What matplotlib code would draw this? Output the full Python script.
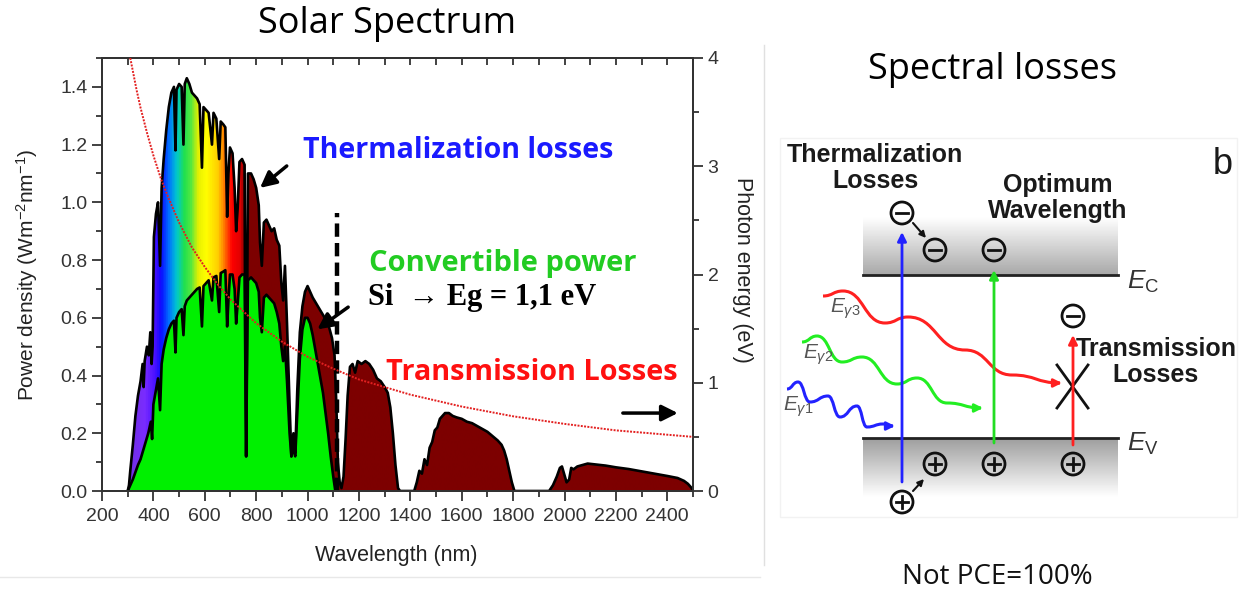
import numpy as np
import matplotlib
matplotlib.use('Agg')
import matplotlib.pyplot as plt
from matplotlib.colors import LinearSegmentedColormap
from matplotlib.patches import Circle, Rectangle, PathPatch
from matplotlib.path import Path
from matplotlib.ticker import MultipleLocator

plt.rcParams['font.family'] = ['Liberation Sans', 'DejaVu Sans']
plt.rcParams['mathtext.fontset'] = 'custom'
plt.rcParams['mathtext.rm'] = 'Liberation Sans'
plt.rcParams['mathtext.it'] = 'Liberation Sans:italic'
plt.rcParams['mathtext.bf'] = 'Liberation Sans:bold'

# solar spectrum (nm, W m-2 nm-1)
wavelength = [300, 305, 310, 320, 330, 340, 350, 358, 362, 366, 375, 382, 388, 393, 397,
              402, 410, 418, 426, 432, 440, 450, 460, 470, 480, 486, 490, 500, 510, 517,
              522, 530, 540, 550, 560, 570, 580, 589, 595, 605, 615, 628, 634, 645, 656,
              662, 672, 680, 687, 692, 698, 708, 716, 722, 728, 735, 745, 755, 759, 761,
              764, 768, 780, 790, 800, 810, 815, 822, 830, 840, 850, 860, 870, 880, 890,
              898, 905, 912, 920, 930, 937, 945, 952, 960, 970, 980, 990, 1000, 1010, 1020,
              1040, 1060, 1080, 1095, 1105, 1112, 1118, 1125, 1132, 1140, 1148, 1156, 1165, 1175, 1185,
              1195, 1210, 1225, 1240, 1255, 1270, 1285, 1300, 1312, 1322, 1332, 1342, 1352, 1360, 1415,
              1425, 1435, 1445, 1455, 1465, 1475, 1485, 1495, 1505, 1515, 1525, 1535, 1550, 1565, 1580,
              1600, 1620, 1640, 1660, 1680, 1700, 1720, 1740, 1755, 1765, 1775, 1785, 1795, 1805, 1940,
              1955, 1970, 1982, 1990, 1998, 2008, 2018, 2026, 2035, 2050, 2070, 2090, 2120, 2160, 2200,
              2250, 2300, 2350, 2400, 2440, 2465, 2480, 2495, 2500]
irradiance = [0.00, 0.02, 0.07, 0.16, 0.26, 0.33, 0.38, 0.44, 0.36, 0.45, 0.50, 0.47, 0.55, 0.44, 0.50,
              0.88, 0.96, 1.00, 0.78, 1.05, 1.15, 1.25, 1.33, 1.38, 1.40, 1.18, 1.39, 1.41, 1.40, 1.20,
              1.41, 1.43, 1.41, 1.38, 1.37, 1.36, 1.34, 1.12, 1.33, 1.32, 1.31, 1.20, 1.31, 1.29, 1.15,
              1.28, 1.27, 1.26, 0.95, 1.10, 1.19, 1.17, 1.05, 0.90, 0.98, 1.14, 1.15, 1.13, 0.40, 0.12,
              0.50, 1.10, 1.10, 1.08, 1.05, 0.99, 0.86, 0.78, 0.93, 0.94, 0.92, 0.90, 0.91, 0.87, 0.85,
              0.72, 0.66, 0.78, 0.58, 0.30, 0.12, 0.20, 0.13, 0.35, 0.55, 0.64, 0.69, 0.71, 0.69, 0.67,
              0.64, 0.61, 0.58, 0.53, 0.47, 0.30, 0.10, 0.03, 0.01, 0.05, 0.18, 0.33, 0.43, 0.44, 0.41,
              0.45, 0.44, 0.45, 0.44, 0.42, 0.39, 0.38, 0.36, 0.34, 0.29, 0.20, 0.09, 0.01, 0.00, 0.00,
              0.03, 0.07, 0.06, 0.11, 0.09, 0.15, 0.17, 0.21, 0.22, 0.25, 0.26, 0.27, 0.27, 0.26, 0.255,
              0.25, 0.24, 0.235, 0.225, 0.215, 0.205, 0.19, 0.175, 0.16, 0.14, 0.11, 0.07, 0.03, 0.00, 0.00,
              0.02, 0.05, 0.08, 0.085, 0.06, 0.03, 0.04, 0.08, 0.075, 0.085, 0.09, 0.095, 0.092, 0.088, 0.082,
              0.076, 0.068, 0.06, 0.052, 0.045, 0.035, 0.025, 0.01, 0.00]

# power convertible by Si (Eg = 1.1 eV)
conv_wavelength = [300, 310, 320, 330, 340, 350, 360, 370, 380, 390, 395, 400, 410, 418, 426,
                   432, 440, 450, 460, 470, 480, 486, 490, 500, 510, 517, 522, 530, 540, 550,
                   560, 570, 580, 589, 595, 605, 615, 628, 634, 645, 656, 662, 672, 680, 687,
                   692, 698, 708, 716, 722, 728, 735, 745, 755, 759, 761, 764, 768, 780, 790,
                   800, 810, 815, 822, 830, 840, 850, 860, 870, 880, 890, 898, 905, 912, 920,
                   930, 937, 945, 952, 960, 970, 980, 990, 1000, 1010, 1020, 1030, 1040, 1050, 1060,
                   1070, 1080, 1090, 1100, 1108]
conv_power = [0.00, 0.02, 0.04, 0.065, 0.09, 0.11, 0.14, 0.17, 0.20, 0.24, 0.18, 0.30, 0.35, 0.39, 0.28,
              0.44, 0.49, 0.53, 0.56, 0.58, 0.59, 0.48, 0.60, 0.62, 0.63, 0.54, 0.64, 0.66, 0.67, 0.68,
              0.69, 0.70, 0.705, 0.57, 0.71, 0.72, 0.73, 0.66, 0.74, 0.745, 0.62, 0.755, 0.76, 0.765, 0.57,
              0.66, 0.75, 0.75, 0.70, 0.58, 0.65, 0.74, 0.75, 0.75, 0.30, 0.12, 0.40, 0.73, 0.74, 0.73,
              0.72, 0.69, 0.60, 0.55, 0.67, 0.68, 0.67, 0.66, 0.65, 0.62, 0.58, 0.50, 0.45, 0.50, 0.38,
              0.20, 0.12, 0.15, 0.12, 0.27, 0.46, 0.56, 0.60, 0.60, 0.58, 0.54, 0.49, 0.44, 0.39, 0.34,
              0.27, 0.20, 0.12, 0.05, 0.00]

# photon energy (eV), right axis
energy_wavelength = [310, 320, 335, 350, 375, 400, 430, 460, 500, 550, 600, 650, 700, 800, 900,
                     1000, 1100, 1200, 1400, 1600, 1800, 2000, 2200, 2400, 2500]
photon_energy = [4.00, 3.88, 3.70, 3.54, 3.31, 3.10, 2.88, 2.70, 2.48, 2.25, 2.07, 1.91, 1.77, 1.55, 1.38,
                 1.24, 1.13, 1.03, 0.89, 0.78, 0.69, 0.62, 0.56, 0.52, 0.50]

si_gap_nm = 1115

W, H = 1247, 594
fig = plt.figure(figsize=(W / 100, H / 100), dpi=100)
ax = fig.add_axes([102 / W, 1 - 491 / H, (693 - 102) / W, (491 - 58) / H])

# rainbow for the visible part, dark red beyond
spec_cmap = LinearSegmentedColormap.from_list('spec', [
    (0.0, '#7030e0'), ((360 - 300) / 2200, '#7a2cff'), ((400 - 300) / 2200, '#4a10ff'),
    ((425 - 300) / 2200, '#0a0aff'), ((455 - 300) / 2200, '#0070ff'), ((485 - 300) / 2200, '#00c8d0'),
    ((515 - 300) / 2200, '#20e050'), ((540 - 300) / 2200, '#50e840'), ((570 - 300) / 2200, '#e8f000'),
    ((600 - 300) / 2200, '#ffff00'), ((645 - 300) / 2200, '#ffd000'), ((665 - 300) / 2200, '#ff9000'),
    ((685 - 300) / 2200, '#ff4000'), ((700 - 300) / 2200, '#ff0000'), ((735 - 300) / 2200, '#e00000'),
    ((748 - 300) / 2200, '#7d0000'), (1.0, '#7d0000')])
grad = spec_cmap(np.linspace(0, 1, 2200))[None, :, :]

fill = ax.fill_between(wavelength, 0, irradiance, facecolor='none', edgecolor='none')
im = ax.imshow(grad, extent=[300, 2500, 0, 1.5], aspect='auto', zorder=1, interpolation='bilinear')
im.set_clip_path(fill.get_paths()[0], transform=ax.transData)
ax.fill_between(conv_wavelength, 0, conv_power, color='#00f000', lw=0, zorder=2)
ax.plot(wavelength, irradiance, color='black', lw=1.9, zorder=3)
ax.plot(conv_wavelength, conv_power, color='black', lw=1.9, zorder=3)
ax.plot([si_gap_nm, si_gap_nm], [0, 0.963], color='black', lw=3.2, ls=(0, (3, 1.4)), zorder=4)

arr = dict(arrowstyle='-|>', color='black', lw=2.5, mutation_scale=24, shrinkA=0, shrinkB=0)
ax.annotate('', xy=(815, 1.05), xytext=(919, 1.126), arrowprops=arr, zorder=6)
ax.annotate('', xy=(1038, 0.56), xytext=(1158, 0.637), arrowprops=arr, zorder=6)
ax.annotate('', xy=(2441, 0.27), xytext=(2227, 0.27), arrowprops=arr, zorder=6)

ax.set_xlim(200, 2500)
ax.set_ylim(0, 1.5)
ax.xaxis.set_major_locator(MultipleLocator(200))
ax.xaxis.set_minor_locator(MultipleLocator(100))
ax.yaxis.set_major_locator(MultipleLocator(0.2))
ax.yaxis.set_minor_locator(MultipleLocator(0.1))
ax.yaxis.set_major_formatter(lambda v, p: f'{v:.1f}')
ax.tick_params(which='both', direction='out', top=False, right=False, width=1.3,
               colors='#333333', labelsize=14)
ax.tick_params(which='major', length=7)
ax.tick_params(which='minor', length=4)
ax.tick_params(axis='x', pad=5)
for s in ax.spines.values():
    s.set_linewidth(1.4)
    s.set_color('#333333')

top = ax.secondary_xaxis('top')
top.xaxis.set_major_locator(MultipleLocator(100))
top.tick_params(direction='in', length=5, width=1.3, labeltop=False, colors='#333333')
top.spines['top'].set_linewidth(1.4)

ax.set_xlabel('Wavelength (nm)', fontsize=15.5, color='#222222', va='center')
ax.xaxis.set_label_coords((396 - 102) / 591, -(555 - 491) / 433)
ax.set_ylabel('Power density (Wm$^{-2}$nm$^{-1}$)', fontsize=15, color='#222222', va='center')
ax.yaxis.set_label_coords((27 - 102) / 591, (491 - 275) / 433)

ax2 = ax.twinx()
ax2.plot(energy_wavelength, photon_energy, color='#e32020', lw=1.4, ls=(0, (1, 0.7)), zorder=5)
ax2.set_ylim(0, 4)
ax2.yaxis.set_major_locator(MultipleLocator(1))
ax2.yaxis.set_minor_locator(MultipleLocator(0.5))
ax2.tick_params(which='both', direction='out', width=1.3, colors='#333333', labelsize=14)
ax2.tick_params(which='major', length=7)
ax2.tick_params(which='minor', length=4)
for s in ax2.spines.values():
    s.set_linewidth(1.4)
    s.set_color('#333333')
ax2.set_ylabel('Photon energy (eV)', rotation=-90, fontsize=15.5, color='#222222', va='center')
ax2.yaxis.set_label_coords((743 - 102) / 591, (491 - 270) / 433)

# overlay in pixel coordinates for titles, labels and the band diagram
ov = fig.add_axes([0, 0, 1, 1], zorder=5)
ov.patch.set_alpha(0)
ov.axis('off')

title_font = ['Open Sans', 'DejaVu Sans']
ov.text(387, 24, 'Solar Spectrum', fontsize=26, family=title_font, ha='center', va='center')
ov.text(992, 70, 'Spectral losses', fontsize=26, family=title_font, ha='center', va='center')
ov.text(997, 577, 'Not PCE=100%', fontsize=20, family=title_font, ha='center', va='center', color='#111111')

lbl_font = ['Open Sans', 'DejaVu Sans']
ov.text(458, 150, 'Thermalization losses', fontsize=20.6, weight='bold', family=lbl_font,
        color='#1a1aff', ha='center', va='center')
ov.text(503, 263, 'Convertible power', fontsize=21, weight='bold', family=lbl_font,
        color='#22cc22', ha='center', va='center')
ov.text(368, 298, 'Si  \u2192 Eg = 1,1 eV', fontsize=22, weight='bold',
        family=['Liberation Serif', 'DejaVu Serif'], ha='left', va='center')
ov.text(532, 372, 'Transmission Losses', fontsize=20.8, weight='bold', family=lbl_font,
        color='#ff1010', ha='center', va='center')

# faint frame lines
ov.plot([0, 760], [577, 577], color='#e8e8e8', lw=1)
ov.plot([764, 764], [45, 565], color='#e0e0e0', lw=1)
ov.add_patch(Rectangle((780, 138), 457, 379, fc='none', ec='#f2f2f2', lw=1))

# bands
cb = np.linspace(1.0, 0.66, 64)[:, None]
ov.imshow(cb, extent=(863, 1118, 275, 217), cmap='gray', vmin=0, vmax=1, aspect='auto', origin='upper')
vb = np.linspace(0.62, 1.0, 64)[:, None]
ov.imshow(vb, extent=(863, 1118, 497, 438), cmap='gray', vmin=0, vmax=1, aspect='auto', origin='upper')
ov.plot([863, 1118], [275, 275], color='#222222', lw=2)
ov.plot([863, 1118], [438, 438], color='#222222', lw=2)
ov.text(1127, 282, r'$E_{\mathrm{C}}$', fontsize=19, color='#333333', ha='left', va='center')
ov.text(1127, 444, r'$E_{\mathrm{V}}$', fontsize=19, color='#333333', ha='left', va='center')

def vert_arrow(x, y0, y1, color):
    ov.annotate('', xy=(x, y1), xytext=(x, y0),
                arrowprops=dict(arrowstyle='-|>', color=color, lw=2, mutation_scale=13,
                                shrinkA=0, shrinkB=0))

vert_arrow(902, 482, 232, '#2222ff')
vert_arrow(994, 443, 270, '#22dd22')
vert_arrow(1073, 445, 335, '#ff2020')

def charge(x, y, sign):
    ov.add_patch(Circle((x, y), 11, fc='none', ec='#111111', lw=2))
    ov.plot([x - 6, x + 6], [y, y], color='#111111', lw=2)
    if sign > 0:
        ov.plot([x, x], [y - 6, y + 6], color='#111111', lw=2)

for cx, cy, sg in [(902, 213, -1), (935, 250, -1), (994, 250, -1), (1073, 316, -1),
                   (935, 464, 1), (994, 464, 1), (1073, 464, 1), (902, 502, 1)]:
    charge(cx, cy, sg)

small = dict(arrowstyle='-|>', color='#111111', lw=1.5, mutation_scale=9, shrinkA=0, shrinkB=0)
ov.annotate('', xy=(926, 238), xytext=(913, 223), arrowprops=small)
ov.annotate('', xy=(924, 479), xytext=(913, 491), arrowprops=small)

ov.plot([1057, 1088], [365, 408], color='#111111', lw=2)
ov.plot([1057, 1088], [408, 365], color='#111111', lw=2)

def wave(pts, color):
    verts = [pts[0]]
    codes = [Path.MOVETO]
    for (x0, y0), (x1, y1) in zip(pts[:-1], pts[1:]):
        dx = (x1 - x0) / 2
        verts += [(x0 + dx, y0), (x1 - dx, y1), (x1, y1)]
        codes += [Path.CURVE4] * 3
    ov.add_patch(PathPatch(Path(verts, codes), fc='none', ec=color, lw=2.2))
    ex, ey = pts[-1]
    ov.annotate('', xy=(ex + 2, ey), xytext=(ex - 6, ey),
                arrowprops=dict(arrowstyle='-|>', color=color, lw=2, mutation_scale=12,
                                shrinkA=0, shrinkB=0))

wave([(823, 296), (843, 291), (885, 323), (908, 317), (965, 350), (1012, 375), (1060, 383)], '#ff2020')
wave([(802, 342), (817, 336), (842, 362), (862, 357), (897, 384), (917, 378), (947, 403), (981, 408)], '#22ee22')
wave([(787, 389), (798, 382), (810, 402), (828, 396), (840, 417), (857, 406), (867, 427), (883, 424), (893, 426)], '#2222ff')

ov.text(845, 309, r'$E_{\gamma 3}$', fontsize=15, color='#555555', ha='center', va='center')
ov.text(818, 355, r'$E_{\gamma 2}$', fontsize=15, color='#555555', ha='center', va='center')
ov.text(798, 407, r'$E_{\gamma 1}$', fontsize=15, color='#555555', ha='center', va='center')

ov.text(875, 168, 'Thermalization\nLosses', fontsize=18, weight='bold', ha='center', va='center',
        color='#1a1a1a', linespacing=1.1)
ov.text(1058, 198, 'Optimum\nWavelength', fontsize=18, weight='bold', ha='center', va='center',
        color='#1a1a1a', linespacing=1.1)
ov.text(1156, 362, 'Transmission\nLosses', fontsize=18, weight='bold', ha='center', va='center',
        color='#1a1a1a', linespacing=1.1)
ov.text(1223, 165, 'b', fontsize=26, ha='center', va='center', color='#1a1a1a')

ov.set_xlim(0, W)
ov.set_ylim(H, 0)

fig.savefig('out.png', dpi=100)
